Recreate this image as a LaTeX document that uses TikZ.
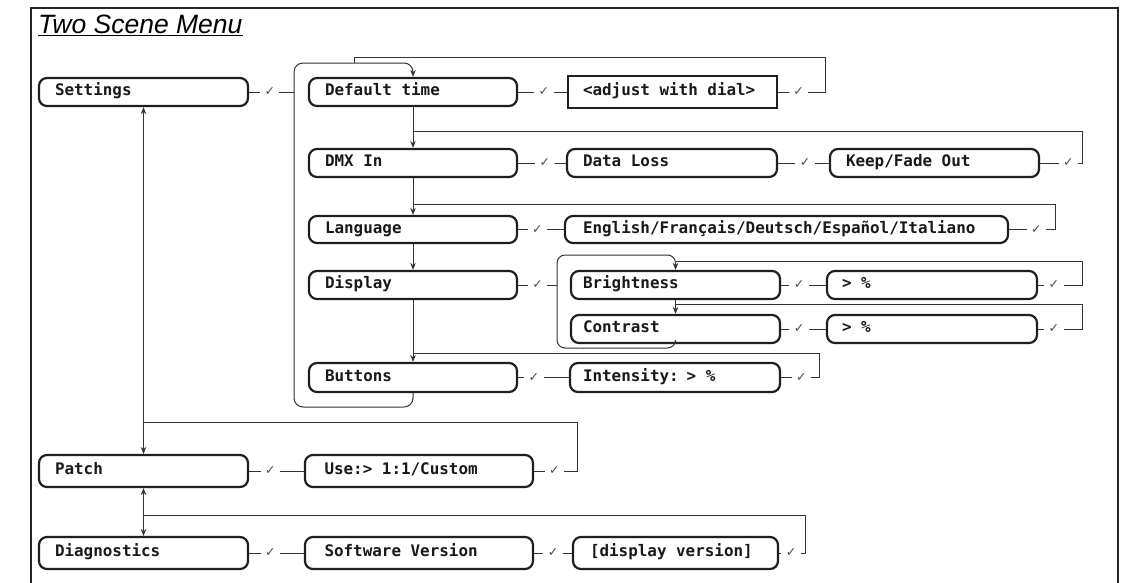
\documentclass[tikz,border=0pt]{standalone}
\usepackage{fontspec}
\newfontfamily\boxfont{DejaVu Sans Mono}
\newfontfamily\ttlfont{Liberation Sans}
\newfontfamily\chkfont{DejaVu Sans}
\usetikzlibrary{arrows.meta}
\tikzset{
  box/.style={draw=black!88, line width=2.2pt, rounded corners=8pt, align=left,
    text height=11.5pt, text depth=4pt, inner ysep=0pt,
    font=\boxfont\bfseries\fontsize{15.9}{18}\selectfont, text=black!90},
  sqbox/.style={box, sharp corners, line width=2.6pt},
  conn/.style={draw=black!80, line width=1pt},
  arr/.style={conn, -{Stealth[length=7pt,width=5.5pt]}},
  darr/.style={conn, {Stealth[length=7pt,width=5.5pt]}-{Stealth[length=7pt,width=5.5pt]}},
  chk/.style={fill=white, inner xsep=4.5pt, inner ysep=0.5pt,
    font=\chkfont\fontsize{12.5}{12.5}\selectfont, text=black!70},
}
\newcommand\bx[8][box]{%
  \pgfmathsetmacro\bxw{#5-#3-2*#7}%
  \pgfmathsetmacro\bxh{#6-#4}%
  \pgfmathsetmacro\bxcx{(#3+#5)/2}%
  \pgfmathsetmacro\bxcy{(#4+#6)/2}%
  \node[#1, inner xsep=#7pt, text width=\bxw pt, minimum height=\bxh pt] (#2) at (\bxcx,\bxcy) {\spaceskip=0.602em\relax #8};}
\begin{document}
\begin{tikzpicture}[x=1pt, y=-1pt]
\useasboundingbox (0,0) rectangle (1131,582);
\clip (0,0) rectangle (1131,582);
\fill[white] (0,0) rectangle (1131,582);
% frame
\draw[line width=2.4pt, draw=black!85] (31,600) -- (31,8) -- (1118,8) -- (1118,600);
% title
\node[anchor=base west, inner sep=0pt, font=\ttlfont\itshape\fontsize{26.5}{29}\selectfont] (title) at (38,33) {Two Scene Menu};
\draw[line width=1.3pt] ([yshift=-2.5pt]title.base west) -- ([yshift=-2.5pt]title.base east);
% boxes
\bx{Settings}{39}{78}{248}{106}{16}{Settings}
\bx{Patch}{39}{455}{248}{487}{16}{Patch}
\bx{Diag}{39}{537}{248}{569}{16}{Diagnostics}
\bx{DT}{309}{78}{517}{106}{16}{Default time}
\bx{DMX}{309}{149}{517}{177}{16}{DMX In}
\bx{Lang}{309}{216}{517}{243}{16}{Language}
\bx{Disp}{309}{271}{517}{299}{16}{Display}
\bx{Buttons}{309}{363}{517}{392}{16}{Buttons}
\bx[sqbox]{adj}{568}{76}{777}{108}{15}{<adjust with dial>}
\bx{DL}{567}{149}{777}{177}{16}{Data Loss}
\bx{KF}{830}{149}{1039}{177}{16}{Keep/Fade Out}
\bx{EN}{565}{216}{1008}{243}{18}{English/Français/Deutsch/Español/Italiano}
\bx{Bright}{571}{271}{780}{299}{12}{Brightness}
\bx{Contr}{571}{315}{780}{343}{12}{Contrast}
\bx{Bp}{827}{271}{1037}{299}{15}{> \%}
\bx{Cp}{827}{315}{1037}{343}{15}{> \%}
\bx{Int}{570}{363}{780}{392}{13}{Intensity: > \%}
\bx{Use}{305}{455}{533}{487}{19.5}{Use:> 1:1/Custom}
\bx{SV}{305}{537}{533}{569}{19.5}{Software Version}
\bx{DV}{573}{537}{778}{569}{17}{[display version]}
% brackets
\coordinate (brL) at (294,92);
\coordinate (brL2) at (557,285);
\draw[arr, rounded corners=9pt] (Buttons.south) |- (294,407) |- (413,63) -- (DT.north);
\draw[arr, rounded corners=8pt] (Contr.south) |- (557,348) |- (675.5,255) -- (Bright.north);
% left column
\draw[conn] (Settings.east) -- node[chk,pos=.46]{✓} (brL);
\draw[darr] (Settings.south) -- (Patch.north);
\draw[darr] (Patch.south) -- (Diag.north);
\draw[conn] (Patch.east) -- node[chk,pos=.39]{✓} (Use.west);
\draw[conn] (Use.east) -- node[chk,pos=.47]{✓} ++(43,0) |- (143.5,422);
\draw[conn] (Diag.east) -- node[chk,pos=.39]{✓} (SV.west);
\draw[conn] (SV.east) -- node[chk,pos=.5]{✓} (DV.west);
\draw[conn] (DV.east) -- node[chk,pos=.46]{✓} ++(26,0) |- (143.5,515);
% row default time
\draw[conn] (DT.east) -- node[chk,pos=.53]{✓} (adj.west);
\draw[conn] (adj.east) -- node[chk,pos=.43]{✓} ++(47,0) |- (354,57) -- (354,63);
\draw[arr] (DT.south) -- (DMX.north);
% row DMX
\draw[conn] (DMX.east) -- node[chk,pos=.56]{✓} (DL.west);
\draw[conn] (DL.east) -- node[chk,pos=.53]{✓} (KF.west);
\draw[conn] (KF.east) -- node[chk,pos=.67]{✓} ++(42,0) |- (413,131);
\draw[arr] (DMX.south) -- (Lang.north);
% row language
\draw[conn] (Lang.east) -- node[chk,pos=.42]{✓} (EN.west);
\draw[conn] (EN.east) -- node[chk,pos=.59]{✓} ++(46,0) |- (413,204);
\draw[arr] (Lang.south) -- (Disp.north);
% row display
\draw[conn] (Disp.east) -- node[chk,pos=.5]{✓} (brL2);
\draw[conn] (Bright.east) -- node[chk,pos=.40]{✓} (Bp.west);
\draw[conn] (Bp.east) -- node[chk,pos=.36]{✓} ++(44,0) |- (675.5,261);
\draw[arr] (Bright.south) -- (Contr.north);
\draw[conn] (Contr.east) -- node[chk,pos=.40]{✓} (Cp.west);
\draw[conn] (Cp.east) -- node[chk,pos=.36]{✓} ++(44,0) |- (675.5,304);
\draw[arr] (Disp.south) -- (Buttons.north);
% row buttons
\draw[conn] (Buttons.east) -- node[chk,pos=.31]{✓} (Int.west);
\draw[conn] (Int.east) -- node[chk,pos=.53]{✓} ++(38,0) |- (413,353);
\end{tikzpicture}
\end{document}
